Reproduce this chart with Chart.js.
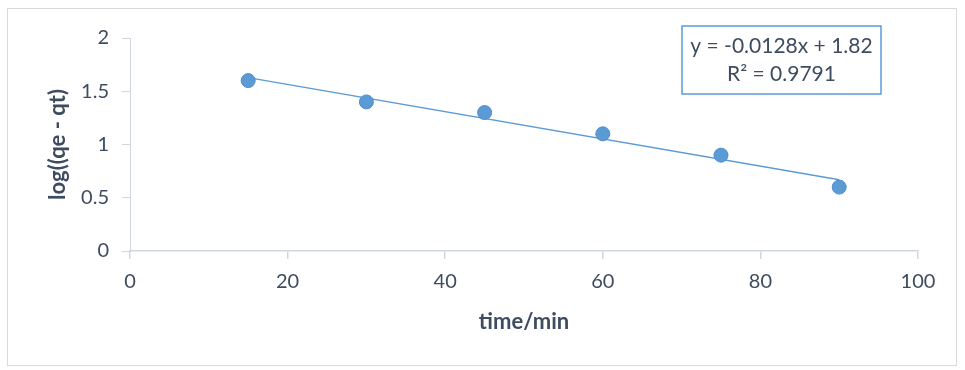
<!DOCTYPE html>
<html>
<head>
<meta charset="utf-8">
<script src="https://cdn.jsdelivr.net/npm/chart.js@4"></script>
<style>
  html, body { margin: 0; padding: 0; background: #ffffff; }
  #wrap { width: 965px; height: 370px; position: relative; }
</style>
</head>
<body>
<div id="wrap"><canvas id="c" width="965" height="370"></canvas></div>
<script>
// Measured points: time (min) vs log(qe - qt)
const times = [15, 30, 45, 60, 75, 90];
const logValues = [1.6, 1.4, 1.3, 1.1, 0.9, 0.6];

// Linear fit reported on the chart
const slope = -0.0128;
const intercept = 1.82;
const rSquared = 0.9791;

const xTicks = [0, 20, 40, 60, 80, 100];
const yTicks = [0, 0.5, 1, 1.5, 2];

const textColor = '#3e4c60';
const axisColor = '#d0d7e2';
const markColor = '#5b9bd5';
const fontFamily = 'Lato, "Open Sans", sans-serif';

const fitStart = times[0];
const fitEnd = times[times.length - 1];
const fitLine = [
  { x: fitStart, y: slope * fitStart + intercept },
  { x: fitEnd, y: slope * fitEnd + intercept }
];

const equationText = 'y = ' + slope.toFixed(4) + 'x + ' + intercept.toFixed(2);
const rText = 'R\u00B2 = ' + rSquared.toFixed(4);

// Outer frame and fit-equation box
const decorations = {
  id: 'decorations',
  beforeDraw(chart) {
    const ctx = chart.ctx;
    ctx.save();
    ctx.strokeStyle = '#d9d9d9';
    ctx.lineWidth = 1;
    ctx.strokeRect(7.5, 8.5, 949, 357);
    ctx.restore();
  },
  afterDraw(chart) {
    const ctx = chart.ctx;
    ctx.save();
    ctx.fillStyle = '#ffffff';
    ctx.fillRect(682, 26, 199, 68);
    ctx.strokeStyle = markColor;
    ctx.lineWidth = 1.5;
    ctx.strokeRect(682, 26, 199, 68);
    ctx.fillStyle = textColor;
    ctx.font = '21px ' + fontFamily;
    ctx.textAlign = 'center';
    ctx.textBaseline = 'middle';
    ctx.fillText(equationText, 781.5, 46);
    ctx.fillText(rText, 781.5, 74);
    ctx.restore();
  }
};

new Chart(document.getElementById('c'), {
  type: 'scatter',
  data: {
    datasets: [
      {
        label: 'log(qe - qt)',
        data: times.map((t, i) => ({ x: t, y: logValues[i] })),
        pointRadius: 7,
        pointHoverRadius: 7,
        pointBackgroundColor: markColor,
        pointBorderColor: '#4f8ccb',
        pointBorderWidth: 1,
        showLine: false,
        order: 1
      },
      {
        label: 'Linear fit',
        data: fitLine,
        showLine: true,
        borderColor: markColor,
        borderWidth: 1.5,
        pointRadius: 0,
        fill: false,
        order: 2
      }
    ]
  },
  plugins: [decorations],
  options: {
    responsive: false,
    animation: false,
    events: [],
    layout: { padding: { left: 0, top: 38, right: 47, bottom: 0 } },
    plugins: {
      legend: { display: false },
      tooltip: { enabled: false }
    },
    scales: {
      x: {
        type: 'linear',
        min: 0,
        max: 100,
        afterBuildTicks(scale) { scale.ticks = xTicks.map(v => ({ value: v })); },
        afterFit(scale) { scale.height = 119; },
        grid: { drawOnChartArea: false, drawTicks: true, tickLength: 8, color: axisColor, lineWidth: 1.5 },
        border: { display: true, color: axisColor, width: 1.5 },
        ticks: { color: textColor, font: { family: fontFamily, size: 20 }, padding: 11, maxRotation: 0,
                 callback: v => String(v) },
        title: {
          display: true,
          text: 'time/min',
          color: textColor,
          font: { family: fontFamily, size: 22, weight: 'bold' },
          padding: { top: 0, bottom: 35 }
        }
      },
      y: {
        type: 'linear',
        min: 0,
        max: 2,
        afterBuildTicks(scale) { scale.ticks = yTicks.map(v => ({ value: v })); },
        afterFit(scale) { scale.width = 130; },
        grid: { drawOnChartArea: false, drawTicks: true, tickLength: 8, color: axisColor, lineWidth: 1 },
        border: { display: true, color: axisColor, width: 1 },
        ticks: { color: textColor, font: { family: fontFamily, size: 20 }, padding: 13,
                 callback: v => String(v) },
        title: {
          display: true,
          text: 'log((qe - qt)',
          color: textColor,
          font: { family: fontFamily, size: 22, weight: 'bold' },
          padding: { top: 45, bottom: 0 }
        }
      }
    }
  }
});
</script>
</body>
</html>
